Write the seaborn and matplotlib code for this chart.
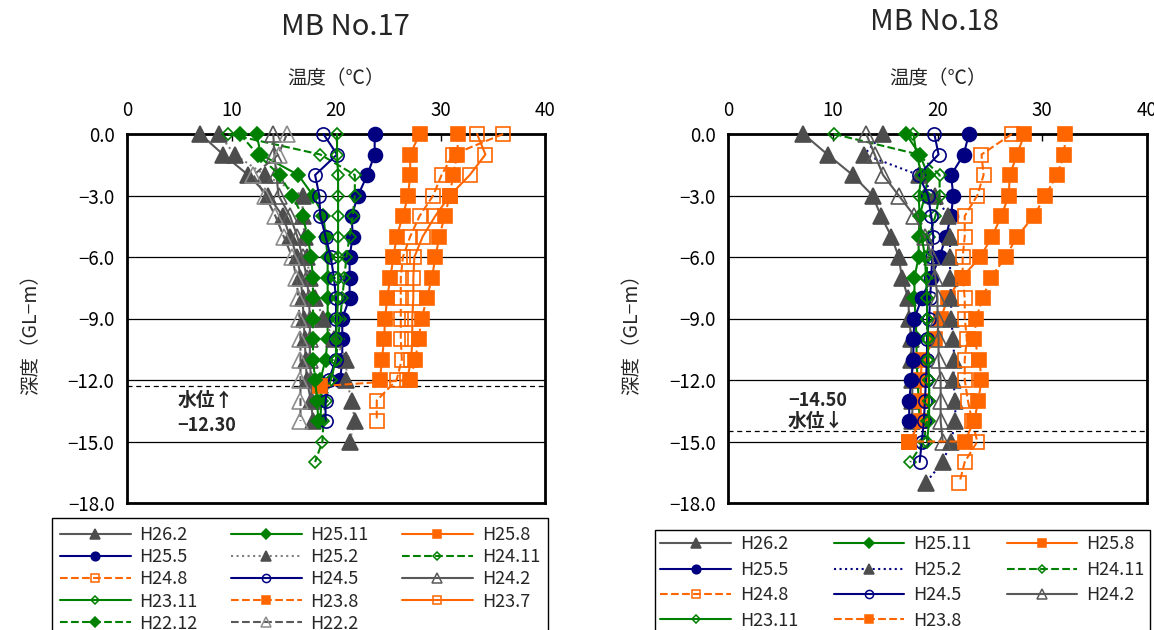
import numpy as np
import matplotlib
matplotlib.use("Agg")
import matplotlib.pyplot as plt
from matplotlib.lines import Line2D
from matplotlib.ticker import FuncFormatter
import seaborn as sns

sns.set_style("white")
plt.rcParams['font.family'] = ['Noto Sans CJK JP', 'DejaVu Sans']
plt.rcParams['axes.unicode_minus'] = True

# ---------------- data ----------------
DEPTHS = [0, -1, -2, -3, -4, -5, -6, -7, -8, -9, -10, -11, -12, -13, -14, -15, -16, -17]
L_H23_8_DEPTHS = [0, -1, -2, -3, -4, -5, -6, -7, -8, -9, -10, -11, -12, -12.3]
R_H23_8_DEPTHS = [0, -1, -2, -3, -4, -5, -6, -7, -8, -9, -10, -11, -12, -13, -14, -15, -15]

LABELS_L = ["H26.2", "H25.11", "H25.8", "H25.5", "H25.2", "H24.11", "H24.8",
            "H24.5", "H24.2", "H23.11", "H23.8", "H23.7", "H22.12", "H22.2"]
LABELS_R = ["H26.2", "H25.11", "H25.8", "H25.5", "H25.2", "H24.11", "H24.8",
            "H24.5", "H24.2", "H23.11", "H23.8"]

# MB No.17 temperatures (deg C) from GL 0 m downward, 1 m steps
L_H26_2 = [7.0, 9.2, 11.6, 13.5, 14.9, 15.6, 16.3, 16.6, 16.8, 16.9, 17.0, 17.1, 17.2, 17.6, 17.8]
L_H25_11 = [12.4, 12.8, 16.4, 17.8, 18.8, 19.0, 19.2, 19.2, 19.2, 19.2, 19.2, 19.0, 18.5, 18.6, 18.5]
L_H25_8 = [28.0, 27.1, 27.1, 26.9, 26.4, 25.8, 25.5, 25.2, 24.9, 24.7, 24.6, 24.4, 24.2]
L_H25_5 = [23.7, 23.7, 23.0, 22.1, 21.5, 21.6, 21.3, 21.3, 21.3, 20.6, 20.6, 20.6, 20.4]
L_H25_2 = [8.8, 10.3, 13.2, 16.8, 16.8, 17.0, 17.2, 17.5, 18.0, 18.8, 19.8, 21.0, 21.0, 21.5, 21.8, 21.3]
L_H24_11 = [9.7, 18.5, 21.8, 21.8, 21.6, 21.3, 21.0, 20.8, 20.6, 20.4, 20.2, 20.0, 19.5, 19.0, 18.8, 18.7, 18.0]
L_H24_8 = [36.0, 31.2, 30.1, 29.3, 28.0, 27.1, 26.4, 26.2, 26.2, 26.2, 26.2, 26.3, 25.8, 23.9, 23.9]
L_H24_5 = [18.8, 20.1, 18.0, 18.4, 18.5, 19.0, 19.5, 19.8, 20.0, 20.0, 20.0, 20.0, 19.3, 19.0, 19.0]
L_H24_2 = [14.0, 14.1, 14.3, 14.5, 15.6, 16.3, 16.8, 17.2, 17.4, 17.5, 17.5, 17.5, 17.6, 17.7]
L_H23_11 = [20.1, 20.1, 20.2, 20.2, 20.2, 20.2, 20.2, 20.2, 20.2, 20.1, 20.0, 20.0, 19.5]
L_H23_8 = [31.7, 31.6, 31.2, 30.9, 30.4, 29.9, 29.5, 29.2, 28.7, 28.2, 27.9, 27.6, 27.1, 18.5]
L_H23_7 = [33.5, 34.3, 32.8, 30.9, 29.5, 28.3, 27.5, 27.4, 27.4, 27.3, 27.3, 27.2, 26.8]
L_H22_12 = [10.8, 12.5, 14.6, 15.8, 16.8, 17.3, 17.6, 17.8, 17.8, 17.8, 17.8, 17.8, 18.0, 18.2, 18.3]
L_H22_2 = [15.3, 14.5, 12.1, 13.2, 14.2, 15.0, 15.8, 16.2, 16.4, 16.5, 16.6, 16.6, 16.6, 16.6, 16.6]

# MB No.18
R_H26_2 = [7.2, 9.5, 11.9, 13.8, 14.6, 15.6, 16.3, 16.6, 17.2, 17.3, 17.5, 17.5, 17.6, 17.6, 17.6]
R_H25_11 = [17.0, 18.3, 19.1, 18.8, 18.3, 18.2, 18.2, 17.8, 17.8, 17.9, 18.0, 18.0, 18.1, 18.2, 18.3]
R_H25_8 = [28.3, 27.6, 26.9, 26.8, 26.1, 25.2, 24.1, 22.3, 21.0, 20.3, 19.8, 18.5, 18.4, 18.4, 18.4, 17.3]
R_H25_5 = [23.0, 22.5, 21.3, 21.5, 21.3, 20.8, 20.2, 19.4, 18.5, 17.8, 17.7, 17.7, 17.5, 17.3, 17.3]
R_H25_2 = [14.8, 13.0, 18.2, 19.8, 21.0, 21.2, 21.2, 21.2, 21.3, 21.3, 21.5, 21.6, 21.5, 21.7, 21.7, 21.3, 20.5, 18.9]
R_H24_11 = [10.1, 18.2, 20.2, 20.2, 19.8, 19.2, 19.0, 19.0, 19.0, 19.0, 19.0, 19.0, 19.2, 19.2, 19.0, 18.7, 17.4]
R_H24_8 = [27.1, 24.2, 24.4, 23.8, 22.6, 22.6, 22.4, 22.4, 22.6, 22.6, 22.8, 22.6, 22.6, 22.9, 23.3, 23.8, 22.6, 22.1]
R_H24_5 = [19.7, 20.1, 18.2, 19.1, 19.4, 19.6, 19.5, 19.4, 19.3, 19.2, 19.0, 19.0, 18.9, 18.8, 18.7, 18.5, 18.3]
R_H24_2 = [13.2, 14.0, 14.8, 16.3, 17.8, 18.8, 19.5, 19.8, 20.0, 20.0, 20.1, 20.1, 20.3, 20.3, 20.3, 20.5]
R_H23_11 = [17.7, 18.0, 18.5, 18.2, 18.3, 18.5, 18.8, 18.9, 19.0, 19.0, 19.1, 19.1, 19.2, 19.2, 19.2, 19.0]
R_H23_8 = [32.2, 32.1, 31.4, 30.3, 29.2, 27.6, 26.5, 25.1, 24.3, 23.7, 23.5, 24.0, 24.2, 23.9, 23.5, 22.6, 17.3]

WATER_L = -12.30
WATER_R = -14.50

# ---------------- styles ----------------
GRAY = '#595959'
DGRAY = '#4d4d4d'
LGRAY = '#8c8c8c'
GREEN = '#008000'
NAVY = '#000080'
ORANGE = '#ff6600'


def style(lc, ls, m, fc, ec, ms, lw=1.5, mew=1.2):
    return dict(lc=lc, ls=ls, m=m, fc=fc, ec=ec, ms=ms, lw=lw, mew=mew)


STY_L = {
    "H26.2": style(GRAY, '-', '^', DGRAY, DGRAY, 11),
    "H25.11": style(GREEN, '-', 'D', GREEN, GREEN, 7.5),
    "H25.8": style(ORANGE, '-', 's', ORANGE, ORANGE, 9.5),
    "H25.5": style(NAVY, '-', 'o', NAVY, NAVY, 10),
    "H25.2": style('#7f7f7f', ':', '^', DGRAY, DGRAY, 11),
    "H24.11": style(GREEN, '--', 'D', 'none', GREEN, 6.5),
    "H24.8": style(ORANGE, '--', 's', 'none', ORANGE, 10),
    "H24.5": style(NAVY, '-', 'o', 'none', NAVY, 9.5),
    "H24.2": style(GRAY, '-', '^', 'none', GRAY, 11),
    "H23.11": style(GREEN, '-', 'D', 'none', GREEN, 6.5),
    "H23.8": style(ORANGE, '--', 's', ORANGE, ORANGE, 9.5),
    "H23.7": style(ORANGE, '-', 's', 'none', ORANGE, 10),
    "H22.12": style(GREEN, '--', 'D', GREEN, GREEN, 7.5),
    "H22.2": style(GRAY, '--', '^', 'none', LGRAY, 11),
}
STY_R = dict(STY_L)
STY_R["H25.2"] = style(NAVY, ':', '^', DGRAY, DGRAY, 11)

SERIES_L = {
    "H26.2": (L_H26_2, DEPTHS), "H25.11": (L_H25_11, DEPTHS), "H25.8": (L_H25_8, DEPTHS),
    "H25.5": (L_H25_5, DEPTHS), "H25.2": (L_H25_2, DEPTHS), "H24.11": (L_H24_11, DEPTHS),
    "H24.8": (L_H24_8, DEPTHS), "H24.5": (L_H24_5, DEPTHS), "H24.2": (L_H24_2, DEPTHS),
    "H23.11": (L_H23_11, DEPTHS), "H23.8": (L_H23_8, L_H23_8_DEPTHS), "H23.7": (L_H23_7, DEPTHS),
    "H22.12": (L_H22_12, DEPTHS), "H22.2": (L_H22_2, DEPTHS),
}
SERIES_R = {
    "H26.2": (R_H26_2, DEPTHS), "H25.11": (R_H25_11, DEPTHS), "H25.8": (R_H25_8, DEPTHS),
    "H25.5": (R_H25_5, DEPTHS), "H25.2": (R_H25_2, DEPTHS), "H24.11": (R_H24_11, DEPTHS),
    "H24.8": (R_H24_8, DEPTHS), "H24.5": (R_H24_5, DEPTHS), "H24.2": (R_H24_2, DEPTHS),
    "H23.11": (R_H23_11, DEPTHS), "H23.8": (R_H23_8, R_H23_8_DEPTHS),
}

W, H = 1154, 630
fig = plt.figure(figsize=(W / 100, H / 100), dpi=100)


def px_axes(x0, x1, ytop, ybot):
    return fig.add_axes([x0 / W, 1 - ybot / H, (x1 - x0) / W, (ybot - ytop) / H])


def draw_series(ax, labels, series, styles):
    for i, lab in enumerate(labels):
        temps, deps = series[lab]
        st = styles[lab]
        sns.lineplot(x=list(temps), y=list(deps[:len(temps)]), ax=ax, sort=False,
                     estimator=None, color=st['lc'], linestyle=st['ls'],
                     linewidth=st['lw'], marker=st['m'], markersize=st['ms'],
                     markerfacecolor=st['fc'], markeredgecolor=st['ec'],
                     markeredgewidth=st['mew'], clip_on=False, legend=False,
                     zorder=3 + i * 0.01)


def setup(ax):
    ax.set_xlim(0, 40)
    ax.set_ylim(-18, 0)
    ax.xaxis.tick_top()
    ax.xaxis.set_label_position('top')
    ax.set_xticks([0, 10, 20, 30, 40])
    ax.set_yticks(np.arange(-18, 0.1, 3))
    ax.yaxis.set_major_formatter(FuncFormatter(
        lambda v, p: f"{v:.1f}".replace('-', '\u2212') if abs(v) > 1e-9 else "0.0"))
    ax.tick_params(axis='x', direction='in', length=5, width=1, pad=9, labelsize=13.5,
                   top=True, bottom=False, colors='black')
    ax.tick_params(axis='y', direction='in', length=0, pad=9, labelsize=13.5, colors='black')
    ax.grid(False)
    ax.yaxis.grid(True, color='black', lw=0.9)
    ax.set_axisbelow(True)
    for s in ax.spines.values():
        s.set_linewidth(2.0)
        s.set_color('black')
        s.set_visible(True)
    ax.set_xlabel('温度（℃）', fontsize=14)
    ax.set_ylabel('深度（GL−m）', fontsize=14)
    ax.xaxis.set_label_coords(0.5, 1.135)
    ax.yaxis.set_label_coords(-0.205, 0.47)


def make_legend(labels, styles, box, spacing, bpad):
    handles = []
    for lab in labels:
        st = styles[lab]
        handles.append(Line2D([], [], color=st['lc'], linestyle=st['ls'], linewidth=st['lw'],
                              marker=st['m'], markersize=st['ms'] * 0.62,
                              markerfacecolor=st['fc'], markeredgecolor=st['ec'],
                              markeredgewidth=1.1))
    n = len(labels)
    order = [i for c in range(3) for i in range(c, n, 3)]
    hs = [handles[i] for i in order]
    ls = [labels[i] for i in order]
    x0, ytop, x1 = box
    leg = fig.legend(hs, ls, loc='upper left', ncol=3, mode='expand',
                     bbox_to_anchor=(x0 / W, 1 - ytop / H, (x1 - x0) / W, 0),
                     fontsize=13, handlelength=3.9, handletextpad=0.5,
                     labelspacing=spacing, borderpad=bpad, borderaxespad=0,
                     frameon=True, fancybox=False, framealpha=1, edgecolor='black')
    leg.get_frame().set_linewidth(1.0)
    return leg


# ---- left: MB No.17 ----
ax1 = px_axes(127, 545, 134, 503)
draw_series(ax1, LABELS_L, SERIES_L, STY_L)
setup(ax1)
ax1.axhline(WATER_L, color='black', ls=(0, (4, 3)), lw=0.9, zorder=2)
ax1.text(7.5, -13.0, '水位↑', ha='center', va='center', fontsize=13.5, fontweight='bold')
ax1.text(7.6, -14.2, f"{WATER_L:.2f}".replace('-', '\u2212'), ha='center', va='center',
         fontsize=13, fontweight='bold')
fig.text(345 / W, 1 - 27 / H, 'MB No.17', ha='center', va='center', fontsize=21)
make_legend(LABELS_L, STY_L, (52, 518, 548), 0.23, 0.45)

# ---- right: MB No.18 ----
ax2 = px_axes(728, 1147, 134, 503)
draw_series(ax2, LABELS_R, SERIES_R, STY_R)
setup(ax2)
ax2.axhline(WATER_R, color='black', ls=(0, (4, 3)), lw=0.9, zorder=2)
ax2.text(8.6, -13.0, f"{WATER_R:.2f}".replace('-', '\u2212'), ha='center', va='center',
         fontsize=13, fontweight='bold')
ax2.text(8.4, -14.0, '水位↓', ha='center', va='center', fontsize=13.5, fontweight='bold')
fig.text(935 / W, 1 - 22 / H, 'MB No.18', ha='center', va='center', fontsize=21)
make_legend(LABELS_R, STY_R, (655, 530, 1150), 0.41, 0.3)

fig.savefig('out.png', dpi=100)
